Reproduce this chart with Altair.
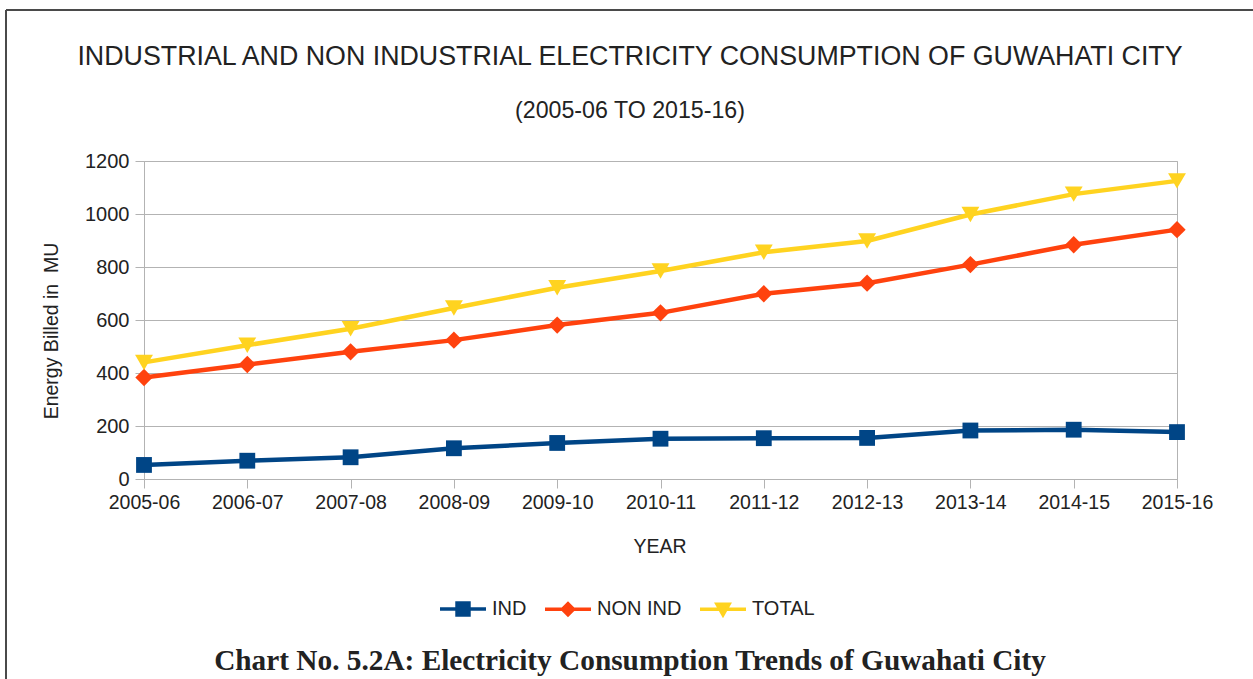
import altair as alt
import pandas as pd

# ---- data -------------------------------------------------------------
years = ["2005-06", "2006-07", "2007-08", "2008-09", "2009-10", "2010-11",
         "2011-12", "2012-13", "2013-14", "2014-15", "2015-16"]
ind = [53, 69, 82, 116, 136, 152, 154, 155, 183, 186, 177]
non_ind = [383, 432, 480, 524, 581, 627, 699, 739, 809, 884, 941]
total = [440, 505, 567, 645, 722, 785, 856, 898, 998, 1075, 1125]
y_ticks = [0, 200, 400, 600, 800, 1000, 1200]

series_names = ["IND", "NON IND", "TOTAL"]
series_values = [ind, non_ind, total]

# ---- styling ----------------------------------------------------------
series_colors = ["#004586", "#ff420e", "#ffd320"]
marker_shapes = ["square", "diamond", "triangle-down"]
marker_sizes = [250, 300, 320]
# legend glyphs: a short line with the series marker in the middle
legend_paths = [
    "M-1,0H1M-0.26,-0.26H0.26V0.26H-0.26Z",
    "M-1,0H1M0,-0.24L0.24,0L0,0.24L-0.24,0Z",
    "M-1,0H1M-0.26,-0.22H0.26L0,0.24Z",
]

SANS = "Liberation Sans"
SERIF = "Liberation Serif"
TEXT = "#222222"
GRID = "#b3b3b3"

W, H = 1033, 318
PAD = {"left": 144, "top": 161, "right": 76, "bottom": 200}

rows = []
for name, vals in zip(series_names, series_values):
    for yr, v in zip(years, vals):
        rows.append({"year": yr, "series": name, "value": v})
df = pd.DataFrame(rows)

x_enc = alt.X(
    "year:O", sort=years,
    scale=alt.Scale(type="point", padding=0),
    axis=alt.Axis(title=None, labelAngle=0, labelFont=SANS, labelFontSize=19.5,
                  labelColor=TEXT, tickSize=9, labelPadding=5, grid=False,
                  domainColor=GRID, tickColor=GRID),
)
y_enc = alt.Y(
    "value:Q",
    scale=alt.Scale(domain=[0, 1200], nice=False),
    axis=alt.Axis(title=None, values=y_ticks, format="d", labelFont=SANS,
                  labelFontSize=20, labelColor=TEXT, tickSize=9, labelPadding=6,
                  grid=True, gridColor=GRID, domainColor=GRID, tickColor=GRID),
)

legend_def = alt.Legend(
    title=None, orient="none", direction="horizontal",
    legendX=294, legendY=423,
    symbolSize=2116, symbolStrokeWidth=3.5, symbolOpacity=1,
    labelFont=SANS, labelFontSize=20, labelColor=TEXT,
    labelOffset=4, columnPadding=11,
)

# lines and (hidden) overlay points carry the series legend
series_chart = alt.Chart(df).mark_line(
    strokeWidth=4.5,
    point=alt.OverlayMarkDef(filled=True, opacity=0),
).encode(
    x=x_enc, y=y_enc,
    color=alt.Color("series:N",
                    scale=alt.Scale(domain=series_names, range=series_colors),
                    legend=legend_def),
    shape=alt.Shape("series:N",
                    scale=alt.Scale(domain=series_names, range=legend_paths),
                    legend=legend_def),
)

# visible markers, one layer per series
marker_layers = []
for name, color, shape, size in zip(series_names, series_colors, marker_shapes, marker_sizes):
    marker_layers.append(
        alt.Chart(df).transform_filter(alt.datum.series == name)
        .mark_point(filled=True, shape=shape, size=size, color=color, opacity=1)
        .encode(x=x_enc, y=y_enc)
    )


def label(text, x, y, size, font=SANS, weight="normal", angle=0):
    return alt.Chart(pd.DataFrame({"t": [text]})).mark_text(
        font=font, fontSize=size, fontWeight=weight, color=TEXT,
        align="center", baseline="middle", angle=angle,
    ).encode(x=alt.value(x), y=alt.value(y), text="t:N")


title_main = "INDUSTRIAL AND NON INDUSTRIAL ELECTRICITY CONSUMPTION OF GUWAHATI CITY"
title_sub = "(2005-06 TO 2015-16)"
caption = "Chart No. 5.2A: Electricity Consumption Trends of Guwahati City"

texts = [
    label(title_main, 486, -104, 26.8),
    label(title_sub, 486, -50, 23.2),
    label("YEAR", 516, 386, 19.5),
    label("Energy Billed in\u00a0 MU", -92, 170, 19.5, angle=270),
    label(caption, 486, 500, 29.3, font=SERIF, weight="bold"),
]

frame_df = pd.DataFrame({"k": [0]})
frame_top = alt.Chart(frame_df).mark_rule(color="#4a4a4a", strokeWidth=2).encode(
    x=alt.value(-138), x2=alt.value(1109), y=alt.value(-151))
frame_left = alt.Chart(frame_df).mark_rule(color="#4a4a4a", strokeWidth=2).encode(
    x=alt.value(-138), y=alt.value(-151), y2=alt.value(518))

chart = (
    alt.layer(series_chart, *marker_layers, *texts, frame_top, frame_left)
    .properties(width=W, height=H, padding=PAD,
                autosize=alt.AutoSizeParams(type="none"),
                background="white")
    .configure_view(stroke=GRID, strokeWidth=1)
)

chart.save("out.html", embed_options={"renderer": "svg", "actions": False})
